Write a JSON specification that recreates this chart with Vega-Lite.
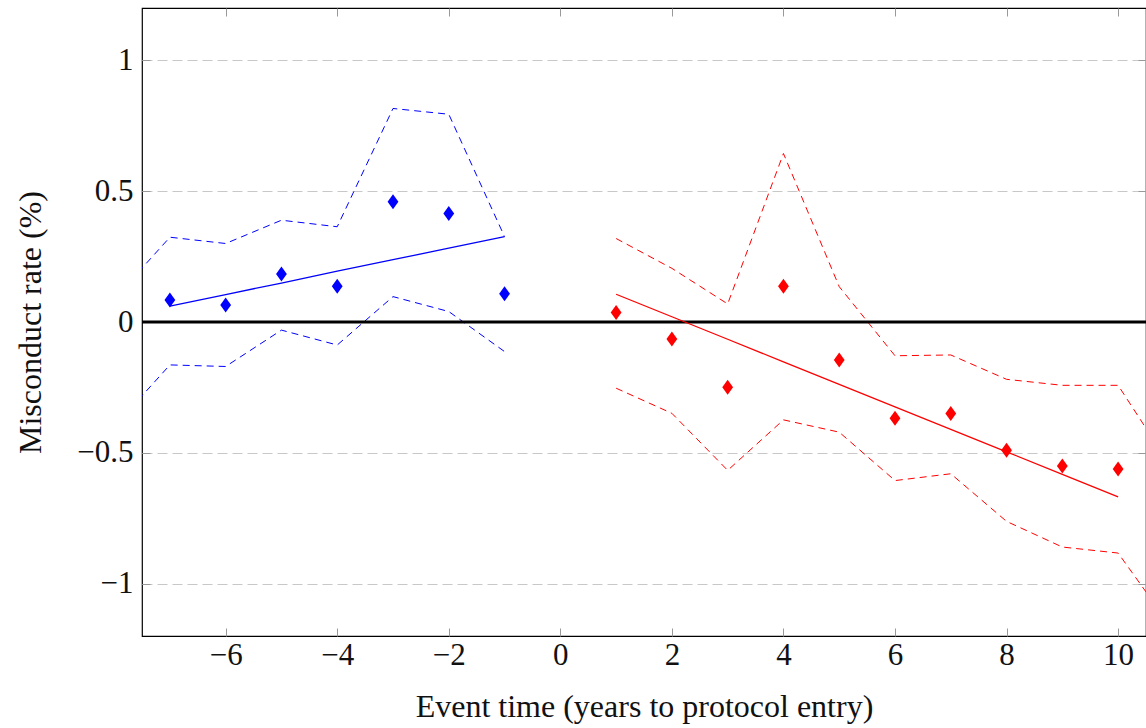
{
  "$schema": "https://vega.github.io/schema/vega-lite/v6.json",
  "autosize": {"type": "none"},
  "width": 1004,
  "height": 628,
  "padding": {"left": 142, "top": 8, "right": 0, "bottom": 92},
  "background": "white",
  "config": {
    "view": {"stroke": "black", "strokeWidth": 1.2},
    "font": "Liberation Serif",
    "axis": {
      "labelFont": "Liberation Serif",
      "titleFont": "Liberation Serif",
      "labelFontSize": 31,
      "titleFontSize": 32,
      "labelColor": "#111",
      "titleColor": "#111",
      "titleFontWeight": "normal",
      "domain": false,
      "tickColor": "#999",
      "tickSize": -8,
      "tickWidth": 1
    }
  },
  "datasets": {
    "est": [
      {"t": -8, "grp": "pre", "lo": -0.40, "hi": 0.088},
      {"t": -7, "grp": "pre", "b": 0.084, "fit": 0.061, "lo": -0.164, "hi": 0.324},
      {"t": -6, "grp": "pre", "b": 0.065, "fit": 0.105, "lo": -0.170, "hi": 0.300},
      {"t": -5, "grp": "pre", "b": 0.183, "fit": 0.149, "lo": -0.031, "hi": 0.389},
      {"t": -4, "grp": "pre", "b": 0.137, "fit": 0.194, "lo": -0.088, "hi": 0.364},
      {"t": -3, "grp": "pre", "b": 0.460, "fit": 0.238, "lo": 0.097, "hi": 0.816},
      {"t": -2, "grp": "pre", "b": 0.415, "fit": 0.282, "lo": 0.040, "hi": 0.794},
      {"t": -1, "grp": "pre", "b": 0.108, "fit": 0.326, "lo": -0.113, "hi": 0.326},
      {"t": 1, "grp": "post", "b": 0.036, "fit": 0.106, "lo": -0.253, "hi": 0.319},
      {"t": 2, "grp": "post", "b": -0.065, "fit": 0.020, "lo": -0.349, "hi": 0.205},
      {"t": 3, "grp": "post", "b": -0.249, "fit": -0.066, "lo": -0.567, "hi": 0.069},
      {"t": 4, "grp": "post", "b": 0.137, "fit": -0.152, "lo": -0.374, "hi": 0.644},
      {"t": 5, "grp": "post", "b": -0.145, "fit": -0.238, "lo": -0.421, "hi": 0.135},
      {"t": 6, "grp": "post", "b": -0.368, "fit": -0.324, "lo": -0.606, "hi": -0.129},
      {"t": 7, "grp": "post", "b": -0.350, "fit": -0.410, "lo": -0.580, "hi": -0.126},
      {"t": 8, "grp": "post", "b": -0.490, "fit": -0.496, "lo": -0.762, "hi": -0.219},
      {"t": 9, "grp": "post", "b": -0.550, "fit": -0.582, "lo": -0.860, "hi": -0.242},
      {"t": 10, "grp": "post", "b": -0.562, "fit": -0.668, "lo": -0.883, "hi": -0.242},
      {"t": 11, "grp": "post", "lo": -1.18, "hi": -0.57}
    ],
    "zero": [{"z": 0}]
  },
  "data": {"name": "est"},
  "resolve": {"axis": {"x": "independent", "y": "independent"}},
  "layer": [
    {
      "mark": {"type": "line", "clip": true, "strokeWidth": 1, "strokeDash": [7, 5]},
      "encoding": {
        "x": {"field": "t", "type": "quantitative", "scale": {"domain": [-7.5, 10.5], "nice": false, "zero": false},
          "axis": {"orient": "bottom", "values": [-6, -4, -2, 0, 2, 4, 6, 8, 10], "format": "d", "title": "Event time (years to protocol entry)", "labelPadding": 12, "titleY": 70, "titleBaseline": "middle", "grid": false}},
        "y": {"field": "lo", "type": "quantitative", "scale": {"domain": [-1.2, 1.2], "nice": false},
          "axis": {"orient": "left", "values": [-1, -0.5, 0, 0.5, 1], "format": ".1~f", "title": "Misconduct rate (%)", "labelPadding": 17, "titleX": -112, "titleBaseline": "middle", "grid": true, "gridColor": "#c8c8c8", "gridDash": [10, 5], "gridWidth": 1.2}},
        "color": {"field": "grp", "type": "nominal", "scale": {"domain": ["pre", "post"], "range": ["#0000ff", "#ff0000"]}, "legend": null}
      }
    },
    {
      "mark": {"type": "line", "clip": true, "strokeWidth": 1, "strokeDash": [7, 5]},
      "encoding": {
        "x": {"field": "t", "type": "quantitative", "axis": {"orient": "top", "values": [-6, -4, -2, 0, 2, 4, 6, 8, 10], "labels": false, "title": null, "grid": false}},
        "y": {"field": "hi", "type": "quantitative", "axis": {"orient": "right", "values": [-1, -0.5, 0, 0.5, 1], "labels": false, "title": null, "grid": false}},
        "color": {"field": "grp", "type": "nominal", "legend": null}
      }
    },
    {
      "data": {"name": "zero"},
      "mark": {"type": "rule", "color": "black", "strokeWidth": 3},
      "encoding": {"y": {"field": "z", "type": "quantitative", "axis": null}}
    },
    {
      "mark": {"type": "line", "clip": true, "strokeWidth": 1.3},
      "encoding": {
        "x": {"field": "t", "type": "quantitative", "axis": null},
        "y": {"field": "fit", "type": "quantitative", "axis": null},
        "color": {"field": "grp", "type": "nominal", "legend": null}
      }
    },
    {
      "mark": {"type": "point", "filled": true, "opacity": 1, "shape": "M0,-1L0.72,0L0,1L-0.72,0Z", "size": 225, "clip": true},
      "encoding": {
        "x": {"field": "t", "type": "quantitative", "axis": null},
        "y": {"field": "b", "type": "quantitative", "axis": null},
        "color": {"field": "grp", "type": "nominal", "legend": null}
      }
    }
  ]
}
